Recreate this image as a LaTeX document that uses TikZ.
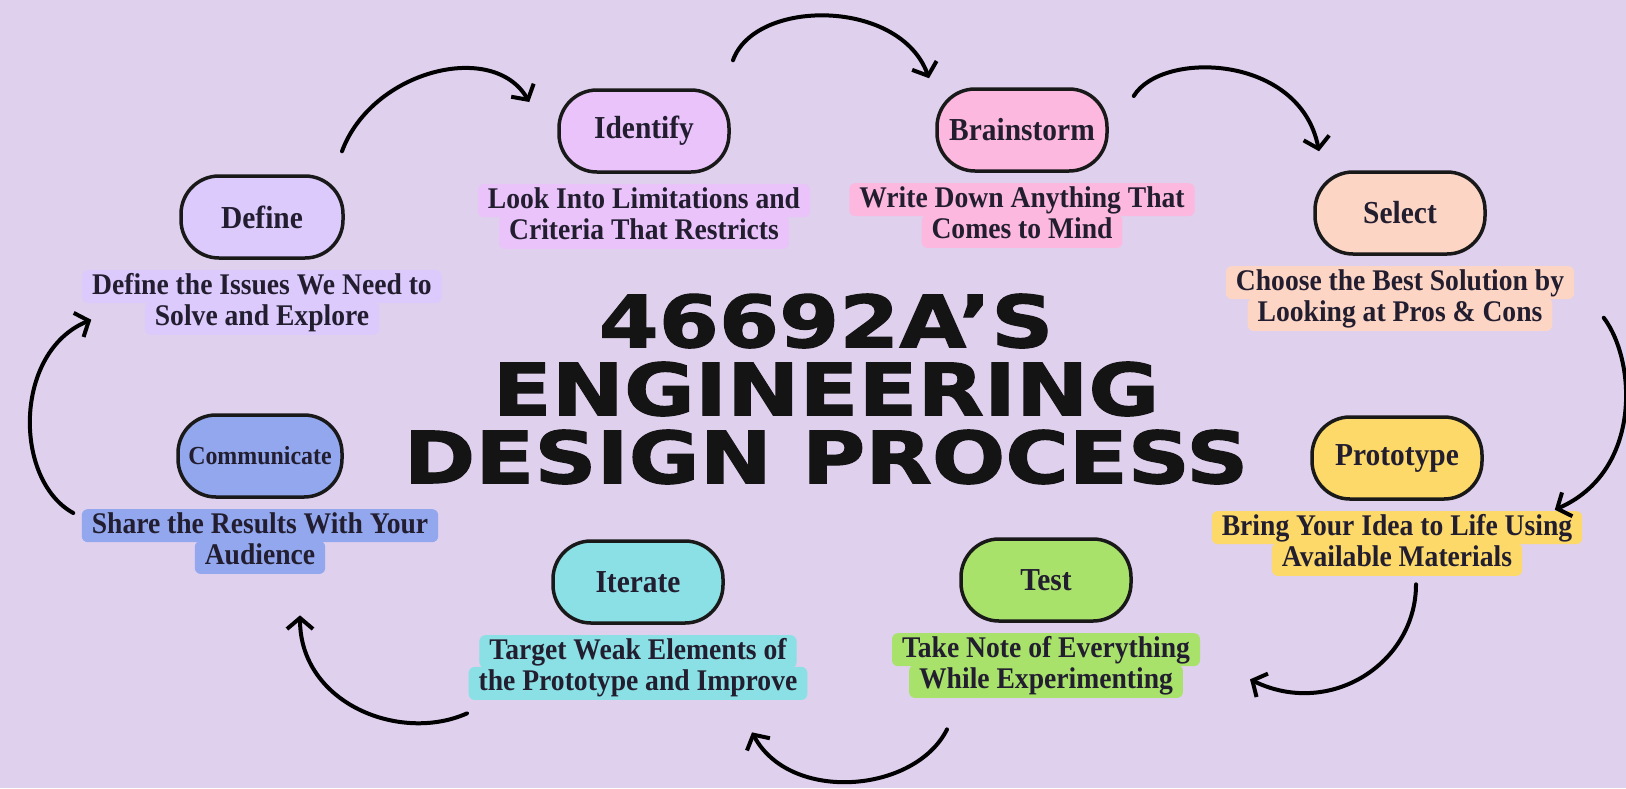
\documentclass[tikz,border=0pt]{standalone}
\usepackage{fontspec}
\usepackage{xcolor}
\usetikzlibrary{arrows.meta,positioning}

\setmainfont{Liberation Serif}[FakeStretch=0.92]
\newfontfamily\titlefont{DejaVu Sans}[FakeStretch=1.2, FakeBold=1.6]

\definecolor{backdrop}{HTML}{DFD0ED}
\definecolor{ink}{HTML}{221E30}
\definecolor{definefill}{HTML}{DCCAFC}
\definecolor{identifyfill}{HTML}{E9C3FA}
\definecolor{brainfill}{HTML}{FDB8E0}
\definecolor{selectfill}{HTML}{FDD5C5}
\definecolor{protofill}{HTML}{FDD969}
\definecolor{testfill}{HTML}{A8E26A}
\definecolor{iteratefill}{HTML}{8AE0E4}
\definecolor{commfill}{HTML}{92A7EE}

\tikzset{
  stage/.style={rectangle, draw=black!90, line width=1.75pt, rounded corners=19pt,
    minimum width=85pt, minimum height=41pt, text=ink, font=\bfseries\fontsize{16}{18}\selectfont},
  note/.style={rectangle, rounded corners=3pt, inner xsep=5pt, inner ysep=1pt,
    text height=11pt, text depth=3.5pt, text=ink, font=\bfseries\fontsize{15}{17}\selectfont},
  flow/.style={line width=2pt, line cap=round, -{Straight Barb[length=5.5pt,width=13pt]}}
}

\begin{document}
\begin{tikzpicture}[x=0.5pt, y=-0.5pt, node distance=5pt]
    \fill[backdrop] (0,0) rectangle (1626,788);
    \useasboundingbox (0,0) rectangle (1626,788);

    % title
    \node [align=center, text=black!92, font=\titlefont\bfseries\fontsize{36}{34}\selectfont] (title) at (826,389) {46692A’S\\ENGINEERING\\DESIGN PROCESS};

    % stages, clockwise from the left
    \node [stage, fill=definefill, minimum width=81pt] (define) at (262,217) {Define};
    \node [note, fill=definefill, below=5pt of define] (define1) {Define the Issues We Need to};
    \node [note, fill=definefill, below=-1pt of define1] (define2) {Solve and Explore};

    \node [stage, fill=identifyfill] (identify) at (644,131) {Identify};
    \node [note, fill=identifyfill, below=5pt of identify] (identify1) {Look Into Limitations and};
    \node [note, fill=identifyfill, below=-1pt of identify1] (identify2) {Criteria That Restricts};

    \node [stage, fill=brainfill] (brainstorm) at (1022,130) {Brainstorm};
    \node [note, fill=brainfill, below=5pt of brainstorm] (brainstorm1) {Write Down Anything That};
    \node [note, fill=brainfill, below=-1pt of brainstorm1] (brainstorm2) {Comes to Mind};

    \node [stage, fill=selectfill] (select) at (1400,213) {Select};
    \node [note, fill=selectfill, below=5pt of select] (select1) {Choose the Best Solution by};
    \node [note, fill=selectfill, below=-1pt of select1] (select2) {Looking at Pros \& Cons};

    \node [stage, fill=protofill] (prototype) at (1397,458) {Prototype};
    \node [note, fill=protofill, below=5pt of prototype] (prototype1) {Bring Your Idea to Life Using};
    \node [note, fill=protofill, below=-1pt of prototype1] (prototype2) {Available Materials};

    \node [stage, fill=testfill] (test) at (1046,580) {Test};
    \node [note, fill=testfill, below=5pt of test] (test1) {Take Note of Everything};
    \node [note, fill=testfill, below=-1pt of test1] (test2) {While Experimenting};

    \node [stage, fill=iteratefill] (iterate) at (638,582) {Iterate};
    \node [note, fill=iteratefill, below=5pt of iterate] (iterate1) {Target Weak Elements of};
    \node [note, fill=iteratefill, below=-1pt of iterate1] (iterate2) {the Prototype and Improve};

    \node [stage, fill=commfill, minimum width=82pt, font=\bfseries\fontsize{13}{15}\selectfont] (communicate) at (260,456) {Communicate};
    \node [note, fill=commfill, below=5pt of communicate] (communicate1) {Share the Results With Your};
    \node [note, fill=commfill, below=-1pt of communicate1] (communicate2) {Audience};

    % curved arrows around the loop
    \draw [flow] ([shift={(80,-23)}]define.north) .. controls +(30,-81) and +(-36,-62) .. ([shift={(-28,-29)}]identify.west);
    \draw [flow] ([shift={(89,-28)}]identify.north) .. controls +(22,-62) and +(-29,-80) .. ([shift={(-93,-9)}]brainstorm.north);
    \draw [flow] ([shift={(25,-34)}]brainstorm.east) .. controls +(28,-46) and +(-19,-97) .. ([shift={(-81,-19)}]select.north);
    \draw [flow] ([shift={(117,62)}]select.south east) .. controls +(33,44) and +(87,-38) .. ([shift={(71,9)}]prototype.south east);
    \draw [flow] ([shift={(19,8)}]prototype2.south) .. controls +(0,79) and +(80,39) .. ([shift={(204,-19)}]test2.south);
    \draw [flow] ([shift={(-99,31)}]test2.south) .. controls +(-32,64) and +(38,71) .. ([shift={(114,32)}]iterate2.south);
    \draw [flow] ([shift={(-171,13)}]iterate2.south) .. controls +(-67,30) and +(0,88) .. ([shift={(40,41)}]communicate2.south);
    \draw [flow] ([shift={(-103,57)}]communicate.west) .. controls +(-60,-33) and +(-78,32) .. ([shift={(-88,60)}]define.south west);
\end{tikzpicture}
\end{document}
